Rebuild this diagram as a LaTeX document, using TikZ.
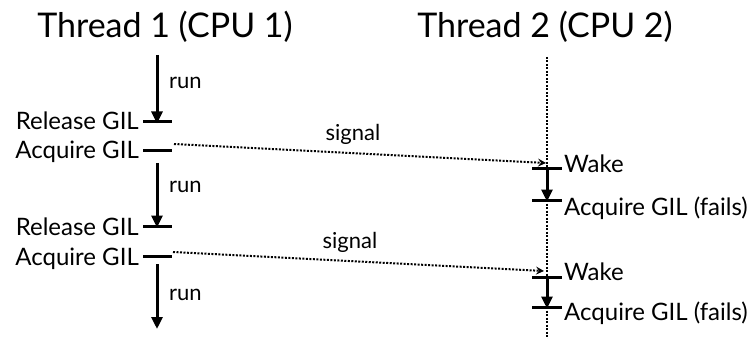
\documentclass[tikz,border=0pt]{standalone}
\usepackage{fontspec}
\setmainfont{Lato}
\usetikzlibrary{arrows.meta}
\begin{document}
\begin{tikzpicture}[x=1pt,y=-1pt,
  bar/.style={line width=3pt},
  flow/.style={line width=3pt,-{Triangle[width=11pt,length=12pt]}},
  sig/.style={line width=2pt,dash pattern=on 2pt off 1.5pt,-{Stealth[length=8pt,width=8pt,inset=3pt]}},
  life/.style={line width=2pt,dash pattern=on 2pt off 1.5pt},
  lab/.style={font=\fontsize{24}{26}\selectfont,inner sep=2pt},
  small/.style={font=\fontsize{22}{24}\selectfont,inner sep=2pt},
  ttl/.style={font=\fontsize{34}{38}\selectfont,inner sep=0pt}]
\useasboundingbox (0,0) rectangle (754,339);
% titles
\node[ttl,anchor=base] (th1) at (165,38) {Thread 1 (CPU 1)};
\node[ttl,anchor=base] (th2) at (545,38) {Thread 2 (CPU 2)};
% thread 1 coordinates
\coordinate (s1) at (157,55);
\coordinate (r1) at (157,122);
\coordinate (a1) at (157,151);
\coordinate (s2) at (157,163);
\coordinate (r2) at (157,226);
\coordinate (a2) at (157,256);
\coordinate (s3) at (157,264);
\coordinate (e3) at (157,329);
% thread 2 coordinates
\coordinate (t2top) at (547,57);
\coordinate (w1) at (547,169);
\coordinate (g1) at (547,200);
\coordinate (w2) at (547,277);
\coordinate (g2) at (547,307);
\coordinate (t2bot) at (547,339);
% thread 2 lifeline
\draw[life] (t2top) -- (w1);
\draw[life] (g1) -- (w2);
\draw[life] (g2) -- (t2bot);
% bars thread 1
\foreach \c in {r1,a1,r2,a2}{
  \draw[bar] ([xshift=-14pt]\c) -- ([xshift=15pt]\c);
}
\foreach \c in {w1,g1,w2,g2}{
  \draw[bar] ([xshift=-15pt]\c) -- ([xshift=15pt]\c);
}
% run arrows
\draw[flow] (s1) -- ([yshift=-1.5pt]r1);
\draw[flow] (s2) -- ([yshift=-1.5pt]r2);
\draw[flow] (s3) -- (e3);
\draw[flow] ([yshift=1.5pt]w1) -- ([yshift=-1.5pt]g1);
\draw[flow] ([yshift=1.5pt]w2) -- ([yshift=-1.5pt]g2);
\node[small,anchor=base west] (run1) at (167,89) {run};
\node[small,anchor=base west] (run2) at (167,192) {run};
\node[small,anchor=base west] (run3) at (167,300) {run};
% labels thread 1
\node[lab,anchor=base east] (lr1) at (141,130) {Release GIL};
\node[lab,anchor=base east] (la1) at (141,159) {Acquire GIL};
\node[lab,anchor=base east] (lr2) at (141,235) {Release GIL};
\node[lab,anchor=base east] (la2) at (141,265) {Acquire GIL};
% labels thread 2
\node[lab,anchor=base west] (lw1) at (562,172) {Wake};
\node[lab,anchor=base west] (lg1) at (562,215) {Acquire GIL (fails)};
\node[lab,anchor=base west] (lw2) at (562,280) {Wake};
\node[lab,anchor=base west] (lg2) at (562,320) {Acquire GIL (fails)};
% signals
\coordinate (sa) at (174,144);
\coordinate (sb) at (546,163);
\coordinate (sc) at (173,252);
\coordinate (sd) at (544,271);
\draw[sig] (sa) -- (sb);
\draw[sig] (sc) -- (sd);
\node[small,anchor=base] (sig1) at (353,141) {signal};
\node[small,anchor=base] (sig2) at (350,248) {signal};
\end{tikzpicture}
\end{document}
